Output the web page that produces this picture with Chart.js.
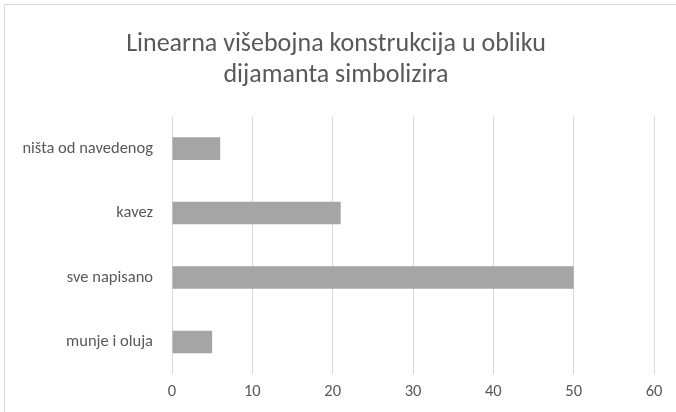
<!DOCTYPE html>
<html>
<head>
<meta charset="utf-8">
<script src="https://cdn.jsdelivr.net/npm/chart.js@4/dist/chart.umd.min.js"></script>
<style>
  body { margin: 0; background: #fff; }
  #wrap { position: absolute; left: 4px; top: 4px; width: 680px; height: 420px; border: 1px solid #d9d9d9; box-sizing: border-box; }
  #holder { position: absolute; left: 0; top: 0; width: 676px; height: 412px; }
</style>
</head>
<body>
<div id="wrap"></div>
<div id="holder"><canvas id="chartCanvas" width="676" height="412"></canvas></div>
<script>
// kategorier og værdier
const categories = ['ništa od navedenog', 'kavez', 'sve napisano', 'munje i oluja']
const values = [6, 21, 50, 5]
const xTicks = [0, 10, 20, 30, 40, 50, 60]
const titleLines = ['Linearna višebojna konstrukcija u obliku', 'dijamanta simbolizira']

const textColor = '#595959'
const font = "Calibri, Carlito, 'Open Sans', sans-serif"

let chart = new Chart(document.getElementById('chartCanvas'), {
  type: 'bar',
  data: {
    labels: categories,
    datasets: [{
      data: values,
      backgroundColor: '#a5a5a5',
      borderWidth: 0,
      barPercentage: 0.7,
      categoryPercentage: 0.5
    }]
  },
  options: {
    indexAxis: 'y',
    responsive: false,
    animation: false,
    layout: { padding: { left: 18, right: 22, top: 29, bottom: 2 } },
    plugins: {
      legend: { display: false },
      tooltip: { enabled: false },
      title: {
        display: true,
        text: titleLines,
        color: textColor,
        font: { family: font, size: 26, weight: 'normal', lineHeight: 1.2 },
        padding: { top: 0, bottom: 25 }
      }
    },
    scales: {
      x: {
        min: 0,
        max: 60,
        afterBuildTicks: axis => { axis.ticks = xTicks.map(v => ({ value: v })) },
        grid: { color: '#d9d9d9', drawTicks: false },
        border: { display: false },
        ticks: { color: textColor, font: { family: font, size: 16.5 }, padding: 8 }
      },
      y: {
        afterFit: axis => { axis.width = 154 },
        grid: { display: false, drawTicks: false },
        border: { display: false },
        ticks: { color: textColor, font: { family: font, size: 16.5 }, padding: 19 }
      }
    }
  }
})
</script>
</body>
</html>
